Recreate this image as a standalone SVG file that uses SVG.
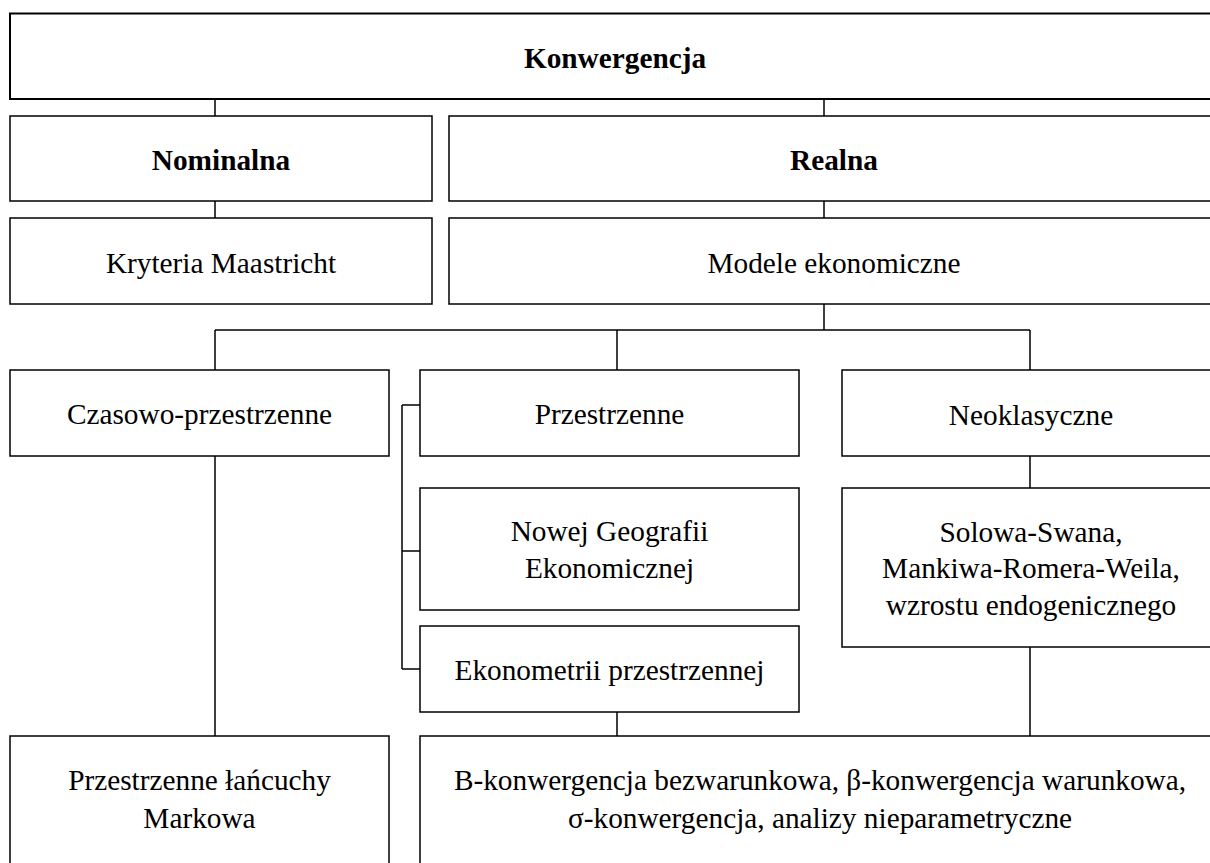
<svg xmlns="http://www.w3.org/2000/svg" width="1210" height="863" viewBox="0 0 1210 863">
<style>
.box{fill:#fff;stroke:#000;stroke-width:1.5}
.top{stroke-width:2}
.t{font-family:"Liberation Serif","Times New Roman",serif;font-size:29.3px;fill:#000;text-anchor:middle}
.b{font-weight:bold}
.ln{fill:none;stroke:#000;stroke-width:1.5}
</style>
<rect width="1210" height="863" fill="#fff"/>
<g id="connectors">
<path class="ln" d="M215 99V116M824 99V116M215 201V218M824 201V218M824 304V330M215 330H1030M215 330V370M617 330V370M1030 330V370"/>
<path class="ln" d="M402 405V669M402 405H420M402 551H420M402 669H420"/>
<path class="ln" d="M1030 456V488M1030 647V736M617 712V736M215 456V736"/>
</g>
<g id="konwergencja"><rect class="box top" x="10" y="13.5" width="1210" height="85.5"/><text class="t b" x="615" y="68">Konwergencja</text></g>
<g id="nominalna"><rect class="box" x="10" y="116" width="422" height="85"/><text class="t b" x="221" y="170">Nominalna</text></g>
<g id="realna"><rect class="box" x="449" y="116" width="771" height="85"/><text class="t b" x="834" y="170">Realna</text></g>
<g id="kryteria"><rect class="box" x="10" y="218" width="422" height="86"/><text class="t" x="221" y="273">Kryteria Maastricht</text></g>
<g id="modele"><rect class="box" x="449" y="218" width="771" height="86"/><text class="t" x="834" y="273">Modele ekonomiczne</text></g>
<g id="czasowo"><rect class="box" x="10" y="370" width="379" height="86"/><text class="t" x="199.5" y="424">Czasowo-przestrzenne</text></g>
<g id="przestrzenne"><rect class="box" x="420" y="370" width="379" height="86"/><text class="t" x="609.5" y="424">Przestrzenne</text></g>
<g id="neoklasyczne"><rect class="box" x="842" y="370" width="378" height="86"/><text class="t" x="1031" y="425">Neoklasyczne</text></g>
<g id="nowej"><rect class="box" x="420" y="488" width="379" height="122"/><text class="t" x="609.5" y="541">Nowej Geografii</text><text class="t" x="609.5" y="578">Ekonomicznej</text></g>
<g id="solowa"><rect class="box" x="842" y="488" width="378" height="159"/><text class="t" x="1031" y="542">Solowa-Swana,</text><text class="t" x="1031" y="578">Mankiwa-Romera-Weila,</text><text class="t" x="1031" y="615">wzrostu endogenicznego</text></g>
<g id="ekonometrii"><rect class="box" x="420" y="626" width="379" height="86"/><text class="t" x="609.5" y="680">Ekonometrii przestrzennej</text></g>
<g id="markowa"><rect class="box" x="10" y="736" width="379" height="140"/><text class="t" x="199.5" y="790">Przestrzenne łańcuchy</text><text class="t" x="199.5" y="828">Markowa</text></g>
<g id="bkonw"><rect class="box" x="420" y="736" width="800" height="140"/><text class="t" x="820" y="790">B-konwergencja bezwarunkowa, β-konwergencja warunkowa,</text><text class="t" x="820" y="828">σ-konwergencja, analizy nieparametryczne</text></g>
</svg>
